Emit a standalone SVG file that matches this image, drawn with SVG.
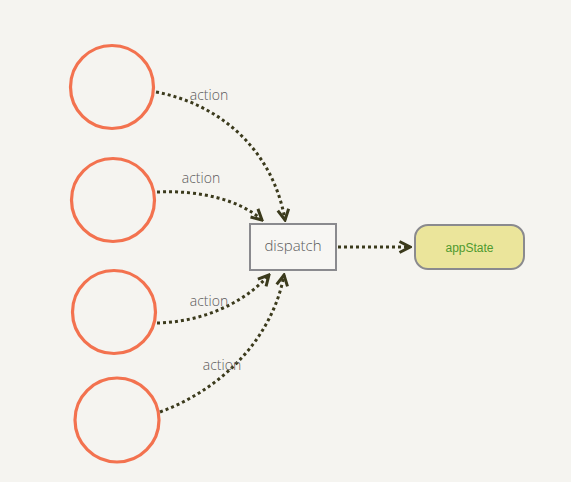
<svg xmlns="http://www.w3.org/2000/svg" width="571" height="482" viewBox="0 0 571 482">
<style>
.src{fill:none;stroke:#f26a46;stroke-width:3.2;stroke-opacity:0.95}
.lbl{font-family:"Open Sans","Noto Sans",sans-serif;font-size:14px;font-weight:300;fill:#5a5a5a}
.edge{fill:none;stroke:#3b3a1c;stroke-width:3;stroke-dasharray:3 3}
</style>
<defs>
<marker id="ah" viewBox="0 0 14 14" refX="12" refY="7" markerWidth="14" markerHeight="14" markerUnits="userSpaceOnUse" orient="auto">
<path d="M1.5,1.5 L12,7 L1.5,12.5" fill="none" stroke="#3b3a1c" stroke-width="3"/>
</marker>
</defs>
<rect width="571" height="482" fill="#f5f4f0"/>
<g id="src1"><circle class="src" cx="112" cy="87" r="41.5"/></g>
<g id="src2"><circle class="src" cx="113" cy="200" r="41.5"/></g>
<g id="src3"><circle class="src" cx="114" cy="312" r="41.5"/></g>
<g id="src4"><circle class="src" cx="117" cy="420" r="42"/></g>
<g id="dispatch">
<rect x="250" y="224" width="86" height="46" fill="#f7f6f3" stroke="#8a8a8e" stroke-width="2"/>
<text x="293" y="251" text-anchor="middle" class="lbl" style="font-size:15px">dispatch</text>
</g>
<g id="appState">
<rect x="415" y="225" width="109" height="44" rx="13" fill="#ebe59b" stroke="#8a8a8e" stroke-width="2"/>
<text x="469.5" y="252" text-anchor="middle" font-family="Liberation Sans, Arial, sans-serif" font-size="12" fill="#4f9a2e">appState</text>
</g>
<g id="connectors">
<path class="edge" d="M156,92 C220,104 273,150 285,220" marker-end="url(#ah)"/>
<path class="edge" d="M157,192 C200,190 240,200 262,220" marker-end="url(#ah)"/>
<path class="edge" d="M157,323 C200,322 242,305 269,275" marker-end="url(#ah)"/>
<path class="edge" d="M160,412 C220,390 272,340 284,275" marker-end="url(#ah)"/>
<path class="edge" d="M338,247 L410,247" marker-end="url(#ah)"/>
<text class="lbl" x="209" y="100" text-anchor="middle">action</text>
<text class="lbl" x="201" y="183" text-anchor="middle">action</text>
<text class="lbl" x="209" y="306" text-anchor="middle">action</text>
<text class="lbl" x="222" y="370" text-anchor="middle">action</text>
</g>
</svg>
